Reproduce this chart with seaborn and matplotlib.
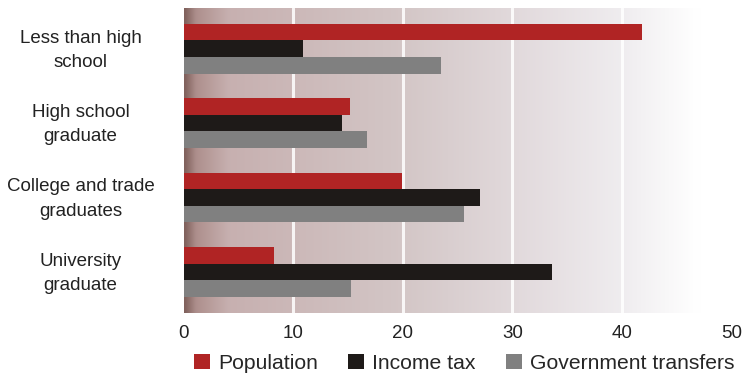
import numpy as np
import pandas as pd
import seaborn as sns
import matplotlib.pyplot as plt
from matplotlib.colors import LinearSegmentedColormap
from matplotlib.transforms import ScaledTranslation

# Data
categories = ["Less than high\nschool", "High school\ngraduate",
              "College and trade\ngraduates", "University\ngraduate"]
population = [41.8, 15.2, 19.9, 8.2]
income_tax = [10.9, 14.4, 27.0, 33.6]
gov_transfers = [23.5, 16.7, 25.6, 15.3]
series_names = ["Population", "Income tax", "Government transfers"]

df = pd.DataFrame({
    "category": categories * 3,
    "value": population + income_tax + gov_transfers,
    "series": [s for s in series_names for _ in categories],
})

colors = {"Population": "#B02424", "Income tax": "#1E1A18",
          "Government transfers": "#808080"}

sns.set_style("white")
plt.rcParams['font.family'] = ['Liberation Sans', 'DejaVu Sans']

fig = plt.figure(figsize=(7.43, 3.76), dpi=100)
ax = fig.add_axes([0.2476, 0.168, 0.744, 0.811])

# gradient background (brownish left fading to white right)
bg = LinearSegmentedColormap.from_list("bg", [
    (0.00, (0.50, 0.38, 0.36)),
    (0.02, (0.68, 0.56, 0.55)),
    (0.08, (0.78, 0.69, 0.69)),
    (0.40, (0.83, 0.78, 0.78)),
    (0.62, (0.89, 0.86, 0.87)),
    (0.80, (0.94, 0.93, 0.94)),
    (0.93, (1.0, 1.0, 1.0)),
    (1.00, (1.0, 1.0, 1.0)),
])
grad = np.linspace(0, 1, 256).reshape(1, -1)
ax.imshow(grad, cmap=bg, aspect="auto", extent=[0, 50.5, 3.55, -0.55],
          zorder=0, interpolation="bicubic")

sns.barplot(data=df, y="category", x="value", hue="series", orient="h",
            palette=colors, width=0.67, saturation=1, ax=ax, zorder=3,
            linewidth=0, legend=True)

for xv in [10, 20, 30, 40]:
    ax.axvline(xv, color="white", lw=2.2, alpha=0.85, zorder=1)

ax.set_xlim(0, 50.5)
ax.set_ylim(3.55, -0.55)
ax.set_xticks([0, 10, 20, 30, 40, 50])
ax.set_xlabel("")
ax.set_ylabel("")
for s in ax.spines.values():
    s.set_visible(False)

ax.tick_params(axis="x", length=0, pad=9, labelsize=13.5, labelcolor="#222222")
ax.tick_params(axis="y", length=0, pad=74.5, labelsize=13.5, labelcolor="#222222")
shift_up = ScaledTranslation(0, 3 / 72, fig.dpi_scale_trans)
for lbl in ax.get_yticklabels():
    lbl.set_ha("center")
    lbl.set_multialignment("center")
    lbl.set_linespacing(1.55)
    lbl.set_transform(lbl.get_transform() + shift_up)

ax.legend(loc="upper center", bbox_to_anchor=(0.507, -0.135), ncol=3,
          frameon=False, fontsize=15.2, handlelength=0.75, handleheight=0.75,
          handletextpad=0.38, columnspacing=1.45, borderaxespad=0,
          borderpad=0)

fig.savefig("out.png", dpi=100)
